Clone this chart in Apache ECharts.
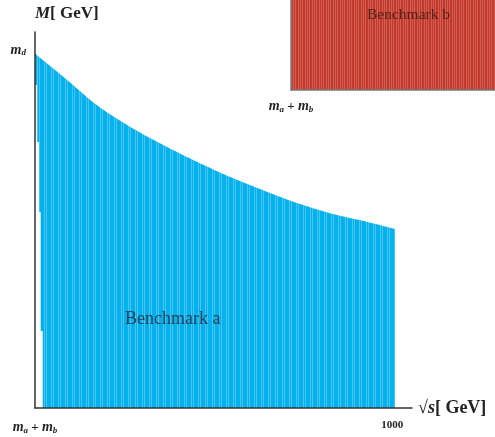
<!DOCTYPE html>
<html>
<head>
<meta charset="utf-8">
<script src="https://cdn.jsdelivr.net/npm/echarts@6/dist/echarts.min.js"></script>
<style>
  html, body { margin: 0; padding: 0; background: #fff; }
  #chart { width: 495px; height: 437px; }
</style>
</head>
<body>
<div id="chart"></div>
<script>
// Benchmark a: allowed region in the (sqrt(s), M) plane, upper edge in GeV
var upperSqrtS = [100, 102.5, 171.3, 255.5, 339.4, 423.3, 507.5, 599.7, 683.9, 767.8, 851.0, 935.8, 1007.2];
var upperM     = [497.1, 493.9, 462.6, 423.1, 392.8, 367.2, 343.9, 320.7, 302.0, 284.8, 270.9, 260.1, 249.9];
// excluded strip just above threshold (below the first scanned columns), left to right
var gapSqrtS = [100, 105, 105, 110, 110, 114.3, 114.3, 119.4, 119.4, 100];
var gapM     = [451.0, 451.0, 371.4, 371.4, 273.7, 273.7, 107.5, 107.5, 0, 0];

// Benchmark b: region filling the inset panel
var benchBSqrtS = [100, 700, 700, 100];
var benchBM     = [0, 0, 300, 300];

// axis ticks
var xTickValues = [100, 1000];
var xTickLabels = ['{m|m}{s|a}{p| + }{m|m}{s|b}', '{n|1000}'];
var yTickValues = [500];
var yTickLabels = ['{m|m}{s|d}'];

var serif = '"Liberation Serif", "DejaVu Serif", serif';

function stripes(base, light, pattern) {
  var c = document.createElement('canvas');
  c.width = pattern.length; c.height = 4;
  var g = c.getContext('2d');
  for (var i = 0; i < pattern.length; i++) {
    g.fillStyle = pattern[i] ? light : base;
    g.fillRect(i, 0, 1, 4);
  }
  return { image: c, repeat: 'repeat' };
}

var blueFill = stripes('#03b1ef', '#4ac5f3', [0, 0, 1, 0, 1, 0, 0]);
var redFill = stripes('#c0392a', '#d35e52', [0, 1, 0, 0, 1, 0, 1]);

function polygonSeries(xs, ys, fill, gridIdx, z) {
  return {
    type: 'custom',
    xAxisIndex: gridIdx, yAxisIndex: gridIdx,
    coordinateSystem: 'cartesian2d',
    clip: true, silent: true, z: z,
    data: [[xs[0], ys[0]]],
    renderItem: function (params, api) {
      var pts = [];
      for (var i = 0; i < xs.length; i++) pts.push(api.coord([xs[i], ys[i]]));
      return { type: 'polygon', shape: { points: pts }, style: { fill: fill, stroke: null } };
    }
  };
}

var richTick = {
  m: { fontFamily: serif, fontStyle: 'italic', fontWeight: 'bold', fontSize: 14, color: '#222' },
  s: { fontFamily: serif, fontStyle: 'italic', fontWeight: 'bold', fontSize: 9, color: '#222', padding: [6, 0, 0, 0] },
  p: { fontFamily: serif, fontWeight: 'bold', fontSize: 13, color: '#222' },
  n: { fontFamily: serif, fontWeight: 'bold', fontSize: 11, color: '#222' }
};

var chart = echarts.init(document.getElementById('chart'), null, { renderer: 'canvas' });
chart.setOption({
  animation: false,
  backgroundColor: '#fff',
  grid: [
    { left: 35, top: 32, width: 377, height: 376 },
    { left: 291, top: 0, width: 210, height: 90 }
  ],
  xAxis: [{
    type: 'value', gridIndex: 0, min: 100, max: 1050, z: 10,
    axisLine: { show: true, lineStyle: { color: '#333', width: 1.5 } },
    axisTick: { show: false }, splitLine: { show: false },
    axisLabel: {
      customValues: xTickValues, margin: 12, color: '#222',
      formatter: function (v) { return xTickLabels[xTickValues.indexOf(v)]; },
      rich: richTick
    },
    name: '√{i|s}[ GeV]', nameLocation: 'end', nameGap: 6,
    nameTextStyle: {
      fontFamily: serif, fontWeight: 'bold', fontSize: 18, color: '#222', verticalAlign: 'middle',
      rich: { i: { fontFamily: serif, fontStyle: 'italic', fontWeight: 'bold', fontSize: 18, color: '#222' } }
    }
  }, {
    type: 'value', gridIndex: 1, min: 100, max: 700, z: 10,
    axisLine: { show: true, lineStyle: { color: '#777', width: 1.5 } },
    axisTick: { show: false }, splitLine: { show: false },
    axisLabel: {
      customValues: [100], margin: 9, color: '#222',
      formatter: function () { return xTickLabels[0]; },
      rich: richTick
    }
  }],
  yAxis: [{
    type: 'value', gridIndex: 0, min: 0, max: 525, z: 10,
    axisLine: { show: true, lineStyle: { color: '#333', width: 1.5 } },
    axisTick: { show: false }, splitLine: { show: false },
    axisLabel: {
      customValues: yTickValues, margin: 9, color: '#222',
      formatter: function (v) { return yTickLabels[yTickValues.indexOf(v)]; },
      rich: richTick
    },
    name: '{i|M}[ GeV]', nameLocation: 'end', nameGap: 10,
    nameTextStyle: {
      fontFamily: serif, fontWeight: 'bold', fontSize: 17, color: '#222', align: 'left',
      rich: { i: { fontFamily: serif, fontStyle: 'italic', fontWeight: 'bold', fontSize: 17, color: '#222' } }
    }
  }, {
    type: 'value', gridIndex: 1, min: 0, max: 300, z: 10,
    axisLine: { show: true, lineStyle: { color: '#777', width: 1.5 } },
    axisTick: { show: false }, splitLine: { show: false },
    axisLabel: { show: false }
  }],
  series: [
    {
      name: 'Benchmark a', type: 'line', xAxisIndex: 0, yAxisIndex: 0,
      data: upperSqrtS.map(function (x, i) { return [x, upperM[i]]; }),
      smooth: 0.3, symbol: 'none', silent: true, z: 2,
      lineStyle: { width: 0 },
      areaStyle: { color: blueFill, opacity: 1, origin: 'start' }
    },
    polygonSeries(gapSqrtS, gapM, '#ffffff', 0, 3),
    polygonSeries(benchBSqrtS, benchBM, redFill, 1, 2)
  ],
  graphic: [
    { type: 'text', left: 125, top: 310, silent: true, z: 100,
      style: { text: 'Benchmark a', fontFamily: serif, fontSize: 18, fill: 'rgba(40,45,60,0.85)' } },
    { type: 'text', left: 367, top: 7, silent: true, z: 100,
      style: { text: 'Benchmark b', fontFamily: serif, fontSize: 15.5, fill: 'rgba(60,25,20,0.85)' } }
  ]
});
</script>
</body>
</html>
